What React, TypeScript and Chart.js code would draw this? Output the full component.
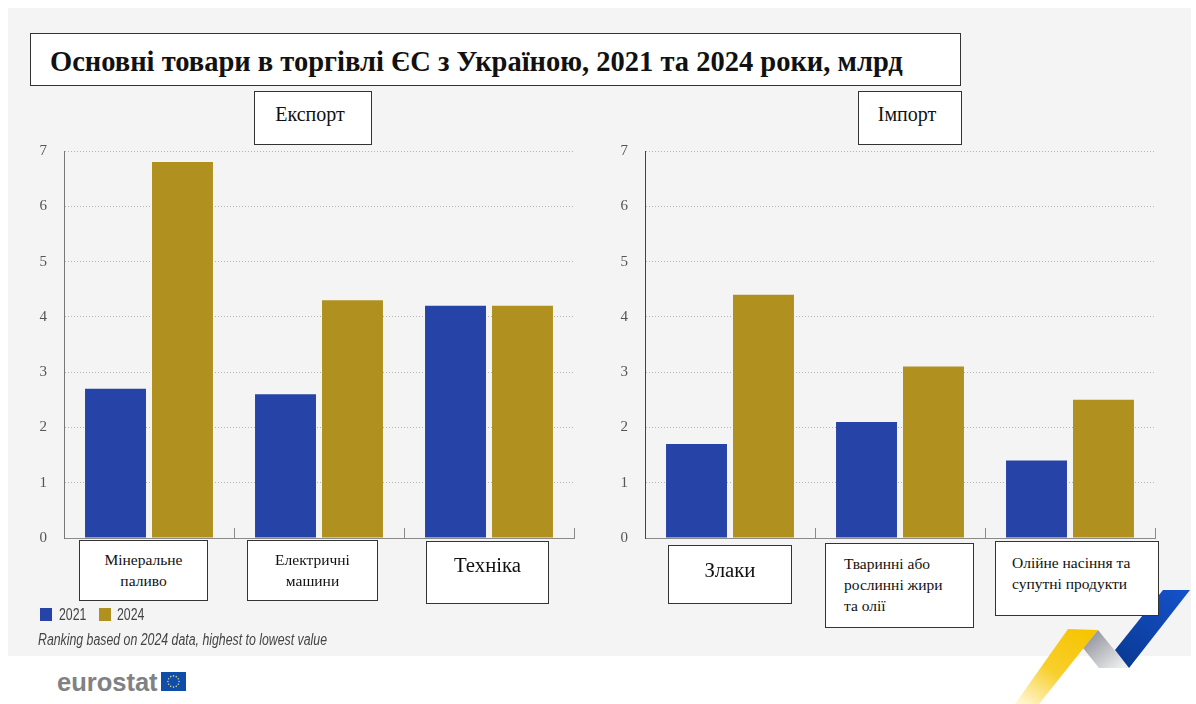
import React, { useEffect, useRef } from "react";
import { Chart, registerables } from "chart.js";

Chart.register(...registerables);

const years = ["2021", "2024"];
const exportCategories = ["Мінеральне\nпаливо", "Електричні\nмашини", "Техніка"];
const exportValues2021 = [2.7, 2.6, 4.2];
const exportValues2024 = [6.8, 4.3, 4.2];
const importCategories = ["Злаки", "Тваринні або\nрослинні жири\nта олії", "Олійне насіння та\nсупутні продукти"];
const importValues2021 = [1.7, 2.1, 1.4];
const importValues2024 = [4.4, 3.1, 2.5];
const yTicks = [0, 1, 2, 3, 4, 5, 6, 7];

const BLUE = "#2644A7";
const GOLD = "#B09120";
const SERIF = '"Liberation Serif", serif';
const SANS = '"Liberation Sans", sans-serif';

type PanelProps = {
  left: number;
  labels: string[];
  first: number[];
  second: number[];
  axisColor: string;
};

function Panel({ left, labels, first, second, axisColor }: PanelProps) {
  const ref = useRef<HTMLCanvasElement>(null);
  useEffect(() => {
    const barStyle = { categoryPercentage: 0.788, barPercentage: 0.91 };
    const chart = new Chart(ref.current!, {
      type: "bar",
      data: {
        labels: labels.map((l) => l.replace(/\n/g, " ")),
        datasets: [
          { label: years[0], data: first, backgroundColor: BLUE, ...barStyle },
          { label: years[1], data: second, backgroundColor: GOLD, ...barStyle },
        ],
      },
      options: {
        animation: false,
        responsive: false,
        layout: { padding: { top: 11, right: 6, bottom: 12, left: 0 } },
        plugins: { legend: { display: false }, tooltip: { enabled: false }, title: { display: false } },
        scales: {
          x: {
            ticks: { display: false },
            border: { color: "#8a8a8a", width: 1 },
            grid: { offset: true, drawOnChartArea: false, tickLength: -10, color: "#8a8a8a" },
            afterFit: (s: any) => {
              s.height = 0;
              s.paddingLeft = 0;
              s.paddingRight = 0;
            },
          },
          y: {
            min: 0,
            max: 7,
            afterBuildTicks: (s: any) => {
              s.ticks = yTicks.map((value) => ({ value }));
            },
            ticks: { color: "#555", font: { family: SERIF, size: 15 }, padding: 17 },
            border: { color: axisColor, width: 1, dash: [1, 2] },
            grid: { color: "#b4b4b4", drawTicks: false },
            afterFit: (s: any) => {
              s.width = 44;
              s.paddingTop = 0;
              s.paddingBottom = 0;
            },
          },
        },
      },
    });
    return () => chart.destroy();
  }, []);
  return (
    <canvas
      ref={ref}
      width={560}
      height={410}
      style={{ position: "absolute", left, top: 140, width: 560, height: 410 }}
    />
  );
}

type BoxProps = {
  x: number;
  y: number;
  w: number;
  h: number;
  text: string;
  size: number;
  align?: "center" | "left";
  pad: number;
  padLeft?: number;
  padRight?: number;
  line?: number;
  bold?: boolean;
};

function Box({ x, y, w, h, text, size, align = "center", pad, padLeft = 0, padRight = 0, line = 21, bold }: BoxProps) {
  return (
    <div
      style={{
        position: "absolute",
        left: x,
        top: y,
        width: w,
        height: h,
        boxSizing: "border-box",
        border: "1.5px solid #333",
        background: "#fff",
        color: "#111",
        fontFamily: SERIF,
        fontSize: size,
        fontWeight: bold ? 700 : 400,
        lineHeight: `${line}px`,
        paddingTop: pad,
        paddingLeft: padLeft,
        paddingRight: padRight,
        textAlign: align,
        whiteSpace: "pre",
      }}
    >
      {text}
    </div>
  );
}

function NarrowText({ x, y, italic, children }: { x: number; y: number; italic?: boolean; children: React.ReactNode }) {
  return (
    <div
      style={{
        position: "absolute",
        left: x,
        top: y,
        fontFamily: SANS,
        fontSize: 16,
        fontStyle: italic ? "italic" : "normal",
        color: "#444",
        whiteSpace: "nowrap",
        transform: "scaleX(0.77)",
        transformOrigin: "left center",
      }}
    >
      {children}
    </div>
  );
}

function FlagLogo() {
  const stars = Array.from({ length: 12 }, (_, i) => (i * Math.PI) / 6);
  return (
    <svg style={{ position: "absolute", left: 161, top: 672 }} width={25} height={19}>
      <rect width={25} height={19} fill="#0F4DA8" />
      {stars.map((a, i) => (
        <circle key={i} cx={12.5 + 5.6 * Math.cos(a)} cy={9.5 + 5.6 * Math.sin(a)} r={0.8} fill="#C9CFA0" />
      ))}
    </svg>
  );
}

function Ribbon() {
  return (
    <svg style={{ position: "absolute", left: 1000, top: 580 }} width={196} height={124}>
      <defs>
        <linearGradient id="yellowFade" x1="0.85" y1="0" x2="0.1" y2="1">
          <stop offset="0" stopColor="#F6C400" />
          <stop offset="0.55" stopColor="#F8CF2C" />
          <stop offset="1" stopColor="#FFF6CF" />
        </linearGradient>
        <linearGradient id="greyFold" x1="0.1" y1="0.1" x2="0.9" y2="0.9">
          <stop offset="0" stopColor="#8f929b" />
          <stop offset="1" stopColor="#eceded" />
        </linearGradient>
        <linearGradient id="blueFold" x1="0.85" y1="0" x2="0.2" y2="1">
          <stop offset="0" stopColor="#1450C8" />
          <stop offset="1" stopColor="#0A3A94" />
        </linearGradient>
      </defs>
      <polygon points="98,50 129,88 99,88 83,68" fill="url(#greyFold)" />
      <polygon points="190,10 163,10 115,70 129,88" fill="url(#blueFold)" />
      <polygon points="68,49 98,50 39,124 15,124" fill="url(#yellowFade)" />
    </svg>
  );
}

export default function App() {
  return (
    <div style={{ position: "absolute", left: 0, top: 0, width: 1196, height: 704, background: "#fff", overflow: "hidden" }}>
      <div style={{ position: "absolute", left: 8, top: 8, width: 1183, height: 648, background: "#F4F4F5" }} />
      <Panel left={20} labels={exportCategories} first={exportValues2021} second={exportValues2024} axisColor="#777" />
      <Panel left={601} labels={importCategories} first={importValues2021} second={importValues2024} axisColor="#444" />
      <Ribbon />

      <Box x={30} y={33} w={931} h={53} text="Основні товари в торгівлі ЄС з Україною, 2021 та 2024 роки, млрд" size={28.5} bold pad={13} padLeft={19} align="left" line={30} />
      <Box x={254} y={91} w={118} h={54} text="Експорт" size={20} pad={12} padRight={6} />
      <Box x={858} y={91} w={104} h={54} text="Імпорт" size={20} pad={12} padRight={6} />

      <Box x={79} y={540} w={129} h={61} text={exportCategories[0]} size={15.5} pad={8} />
      <Box x={247} y={540} w={131} h={61} text={exportCategories[1]} size={15.5} pad={8} />
      <Box x={426} y={541} w={123} h={63} text={exportCategories[2]} size={20.8} pad={12} />
      <Box x={668} y={545} w={124} h={59} text={importCategories[0]} size={20.8} pad={13} />
      <Box x={825} y={543} w={149} h={85} text={importCategories[1]} size={15.5} pad={9} padLeft={18} align="left" />
      <Box x={995} y={541} w={164} h={75} text={importCategories[2]} size={15.5} pad={10} padLeft={16} align="left" />

      <div style={{ position: "absolute", left: 40, top: 608, width: 12, height: 13, background: BLUE }} />
      <NarrowText x={59} y={606}>{years[0]}</NarrowText>
      <div style={{ position: "absolute", left: 99, top: 608, width: 12, height: 13, background: GOLD }} />
      <NarrowText x={117} y={606}>{years[1]}</NarrowText>
      <NarrowText x={38} y={631} italic>
        Ranking based on 2024 data, highest to lowest value
      </NarrowText>

      <div style={{ position: "absolute", left: 57, top: 667, fontFamily: SANS, fontSize: 25.5, fontWeight: 700, color: "#7f8184", lineHeight: "30px" }}>
        eurostat
      </div>
      <FlagLogo />
    </div>
  );
}
